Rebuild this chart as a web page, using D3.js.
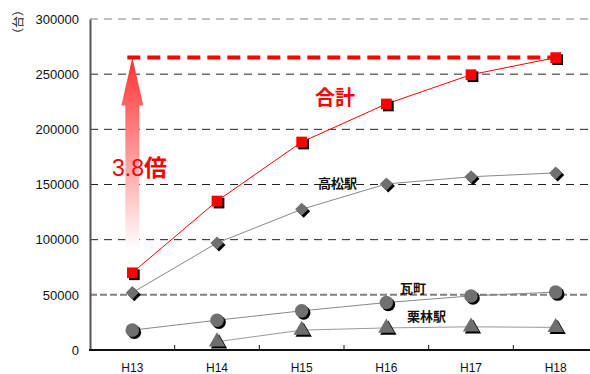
<!DOCTYPE html>
<html>
<head>
<meta charset="utf-8">
<script src="https://cdn.jsdelivr.net/npm/d3@7"></script>
<style>
  html, body { margin: 0; padding: 0; background: #fff; }
  svg { display: block; }
  text { font-family: "Liberation Sans", Arial, sans-serif; }
  .jp { font-family: "Noto Sans CJK JP", sans-serif; font-weight: bold; }
</style>
</head>
<body>
<svg id="chart" width="590" height="374"></svg>
<script>
// Fiscal years (Heisei)
const years = ["H13", "H14", "H15", "H16", "H17", "H18"];
// Bicycle counts per station (台)
const totalCounts    = [70000, 135000, 188500, 223000, 249500, 265000];
const takamatsuCounts = [52000, 97000, 127500, 150500, 157000, 160500];
const kawaramachiCounts = [18000, 27000, 35500, 43000, 49000, 52500];
const ritsurinCounts = [null, 7500, 18000, 20000, 21000, 20500];
const yTicks = [0, 50000, 100000, 150000, 200000, 250000, 300000];

const svg = d3.select("#chart");
const plotL = 90, plotR = 598, plotT = 19, plotB = 350;

const x = d3.scaleBand().domain(years).range([plotL, plotR]).padding(0);
const cx = d => x(d) + x.bandwidth() / 2;
const y = d3.scaleLinear().domain([0, 300000]).range([plotB, plotT]);

// Arrow gradient
const defs = svg.append("defs");
const grad = defs.append("linearGradient").attr("id", "arrowGrad")
  .attr("x1", 0).attr("y1", 1).attr("x2", 0).attr("y2", 0);
grad.append("stop").attr("offset", "0%").attr("stop-color", "#ffffff");
grad.append("stop").attr("offset", "100%").attr("stop-color", "#ff3030");

// Horizontal grid lines
svg.append("g").selectAll("line")
  .data(yTicks.filter(v => v > 0))
  .join("line")
  .attr("x1", plotL).attr("x2", plotR)
  .attr("y1", d => y(d)).attr("y2", d => y(d))
  .attr("stroke", d => (d === 50000 || d === 300000) ? "#808080" : "#222")
  .attr("stroke-width", d => d === 50000 ? 2 : 1)
  .attr("stroke-dasharray", d => d === 50000 ? "7,3" : "8,6");

// Y axis
const yAxis = d3.axisLeft(y).tickValues(yTicks).tickSize(0).tickPadding(11)
  .tickFormat(d3.format("d"));
const gy = svg.append("g").attr("transform", `translate(${plotL},0)`).call(yAxis);
gy.select(".domain").attr("stroke", "#555").attr("stroke-width", 2);
gy.selectAll("text").attr("font-size", 13).attr("fill", "#111");

// X axis with inward ticks at category boundaries
const gx = svg.append("g").attr("transform", `translate(0,${plotB})`);
gx.append("line").attr("x1", plotL - 1).attr("x2", plotR).attr("y1", 0).attr("y2", 0)
  .attr("stroke", "#111").attr("stroke-width", 2);
gx.selectAll("line.tick").data(years.slice(1)).join("line").attr("class", "tick")
  .attr("x1", d => x(d)).attr("x2", d => x(d)).attr("y1", 0).attr("y2", -5)
  .attr("stroke", "#111");
gx.selectAll("text").data(years).join("text")
  .attr("x", d => cx(d)).attr("y", 22).attr("text-anchor", "middle")
  .attr("font-size", 12).attr("fill", "#111").text(d => d);

// Unit label
svg.append("text")
  .attr("transform", "translate(23,22) rotate(-90)")
  .attr("text-anchor", "middle").attr("font-size", 12)
  .style("font-family", "'Noto Sans CJK JP', sans-serif")
  .attr("fill", "#222").text("（台）");

// Growth arrow from H13 total up to the H18 level
const ax = cx(years[0]);
const aTop = y(totalCounts[5]);
const aBottom = 250;
const headBase = aTop + 48;
svg.append("path")
  .attr("d", `M${ax},${aTop} L${ax + 11},${headBase} L${ax + 7},${headBase} L${ax + 7},${aBottom}
              L${ax - 7},${aBottom} L${ax - 7},${headBase} L${ax - 11},${headBase} Z`)
  .attr("fill", "url(#arrowGrad)");

// Reference line at H18 total
svg.append("line")
  .attr("x1", ax - 5).attr("x2", cx(years[5]) + 7)
  .attr("y1", aTop).attr("y2", aTop)
  .attr("stroke", "#ff0000").attr("stroke-width", 4).attr("stroke-dasharray", "13,7");

// Series lines
const line = d3.line().defined(d => d[1] != null).x(d => cx(d[0])).y(d => y(d[1]));
function series(vals, color) {
  svg.append("path").datum(years.map((yr, i) => [yr, vals[i]]))
    .attr("d", line).attr("fill", "none").attr("stroke", color).attr("stroke-width", 1);
}
series(ritsurinCounts, "#999");
series(kawaramachiCounts, "#888");
series(takamatsuCounts, "#888");
series(totalCounts, "#ff0000");

// Markers with drop shadows
function markers(vals, shape, size, fill) {
  const sym = d3.symbol().type(shape).size(size);
  const pts = years.map((yr, i) => [yr, vals[i]]).filter(d => d[1] != null);
  const g = svg.append("g");
  g.selectAll("path.s").data(pts).join("path").attr("class", "s")
    .attr("transform", d => `translate(${cx(d[0]) + 2},${y(d[1]) + 2})`)
    .attr("d", sym).attr("fill", "#000");
  g.selectAll("path.m").data(pts).join("path").attr("class", "m")
    .attr("transform", d => `translate(${cx(d[0])},${y(d[1])})`)
    .attr("d", sym).attr("fill", fill);
}
const diamond = {
  draw(ctx, s) {
    const r = Math.sqrt(s) / 2 * 1.05;
    ctx.moveTo(0, -r); ctx.lineTo(r, 0); ctx.lineTo(0, r); ctx.lineTo(-r, 0); ctx.closePath();
  }
};
markers(ritsurinCounts, d3.symbolTriangle, 115, "#6e6e6e");
markers(kawaramachiCounts, d3.symbolCircle, 145, "#707070");
markers(takamatsuCounts, diamond, 155, "#707070");
markers(totalCounts, d3.symbolSquare, 115, "#ff0000");

// Series labels
const lbl = (t, px, py, size, color) => svg.append("text").attr("class", "jp")
  .attr("x", px).attr("y", py).attr("font-size", size).attr("fill", color)
  .attr("dominant-baseline", "middle").text(t);
lbl("合計", 315, 100, 20, "#ff0000");
lbl("高松駅", 318, 184, 13, "#111");
lbl("瓦町", 400, 289, 13, "#111");
lbl("栗林駅", 407, 317, 13, "#111");

// Growth ratio
const ratio = (totalCounts[5] / totalCounts[0]).toFixed(1);
const rt = svg.append("text").attr("x", 112).attr("y", 170).attr("dominant-baseline", "middle")
  .attr("font-size", 23).attr("fill", "#ff0000");
rt.append("tspan").text(ratio);
rt.append("tspan").style("font-family", "'Noto Sans CJK JP', sans-serif")
  .style("font-weight", "bold").text("倍");
</script>
</body>
</html>
